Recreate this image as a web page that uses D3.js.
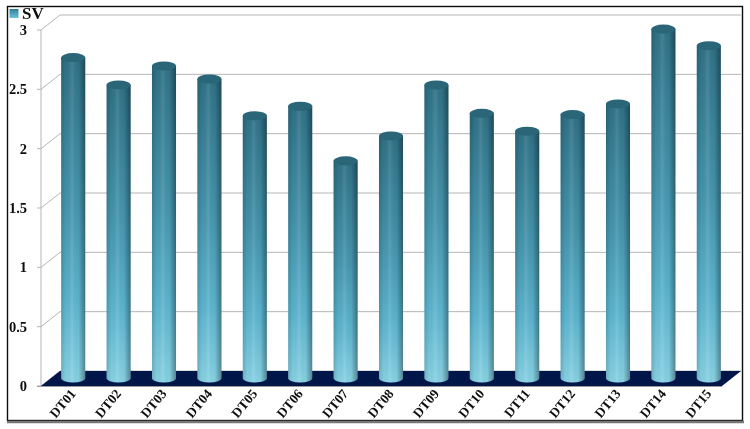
<!DOCTYPE html>
<html><head><meta charset="utf-8">
<script src="https://cdn.jsdelivr.net/npm/d3@7"></script>
<style>html,body{margin:0;padding:0;background:#fff}svg{display:block}text{font-family:"Liberation Serif",serif;font-weight:bold;fill:#111}</style>
</head><body><svg id="c" width="750" height="429"></svg>
<script>
const categories=["DT01","DT02","DT03","DT04","DT05","DT06","DT07","DT08","DT09","DT10","DT11","DT12","DT13","DT14","DT15"];
const seriesValues=[2.70,2.47,2.63,2.52,2.21,2.29,1.83,2.04,2.47,2.23,2.08,2.22,2.31,2.94,2.80];
const yTicks=[0,0.5,1,1.5,2,2.5,3];
const seriesName="SV";

const svg=d3.select("#c");
const defs=svg.append("defs");
const depthX=19,depthY=-15;
const x=d3.scaleBand().domain(categories).range([50.5,731.5]).paddingInner(0.47).paddingOuter(0.235);
const y=d3.scaleLinear().domain([0,3]).range([386,30]);
const midY=depthY/2;

const v=defs.append("linearGradient").attr("id","barV").attr("x1",0).attr("y1",0).attr("x2",0).attr("y2",1);
[[0,"#2f7186"],[0.45,"#4596ae"],[0.75,"#5cb5cf"],[1,"#88d3e5"]].forEach(s=>v.append("stop").attr("offset",s[0]).attr("stop-color",s[1]));
const h=defs.append("linearGradient").attr("id","barH");
[[0,"#000",0.16],[0.2,"#000",0.02],[0.45,"#fff",0.1],[0.72,"#000",0.02],[1,"#000",0.36]].forEach(s=>h.append("stop").attr("offset",s[0]).attr("stop-color",s[1]).attr("stop-opacity",s[2]));
const tile=defs.append("linearGradient").attr("id","leg").attr("x1",0).attr("y1",0).attr("x2",0).attr("y2",1);
[[0,"#2f7f96"],[1,"#6cc3da"]].forEach(s=>tile.append("stop").attr("offset",s[0]).attr("stop-color",s[1]));
const blur=defs.append("filter").attr("id","soft").attr("x","-5%").attr("y","-5%").attr("width","110%").attr("height","110%");
blur.append("feGaussianBlur").attr("stdDeviation",0.5);

const root=svg.append("g").attr("filter","url(#soft)");
// frame
root.append("rect").attr("x",7.5).attr("y",6.5).attr("width",735).attr("height",414).attr("fill","#fff").attr("stroke","#111").attr("stroke-width",1.4);
root.append("line").attr("x1",7).attr("x2",744).attr("y1",422).attr("y2",422).attr("stroke","#777").attr("stroke-width",2.5);

const x0=41,x1=722;
// walls
const grid=root.append("g").attr("fill","none").attr("stroke","#b5b5b5").attr("stroke-width",1);
grid.selectAll("path").data(yTicks).join("path")
 .attr("d",t=>`M${x0-4},${y(t)}L${x0},${y(t)}L${x0+depthX},${y(t)+depthY}L${x1+depthX},${y(t)+depthY}`);
grid.append("line").attr("x1",x0).attr("x2",x0).attr("y1",y(3)).attr("y2",y(0));
// floor
root.append("path").attr("fill","#01134a")
 .attr("d",`M${x0},${y(0)}L${x0+depthX},${y(0)+depthY}L${x1+depthX},${y(0)+depthY}L${x1},${y(0)}Z`);
root.append("line").attr("x1",x0-4).attr("x2",x1).attr("y1",y(0)+0.5).attr("y2",y(0)+0.5).attr("stroke","#999");

// bars
const w=x.bandwidth(),ry=4.5;
const bars=root.append("g").selectAll("g").data(categories).join("g")
 .attr("transform",d=>`translate(${x(d)},${midY-0.5})`);
const body=(d,i)=>{const t=y(seriesValues[i]),b=y(0);
 return `M0,${t}L0,${b}A${w/2},${ry} 0 0 0 ${w},${b}L${w},${t}Z`;};
bars.append("path").attr("d",body).attr("fill","url(#barV)");
bars.append("path").attr("d",body).attr("fill","url(#barH)");
bars.append("ellipse").attr("cx",w/2).attr("cy",(d,i)=>y(seriesValues[i])).attr("rx",w/2).attr("ry",ry).attr("fill","#2a6578");

// y labels
root.append("g").selectAll("text").data(yTicks).join("text")
 .attr("x",27).attr("y",t=>y(t)+5).attr("text-anchor","end").attr("font-size",14.5).text(t=>t);
// x labels
root.append("g").selectAll("text").data(categories).join("text")
 .attr("transform",d=>`translate(${x(d)+w/2+1},${392}) rotate(-50)`)
 .attr("text-anchor","end").attr("dominant-baseline","middle").attr("font-size",13.5).text(d=>d);
// legend
root.append("rect").attr("x",9.5).attr("y",9).attr("width",9).attr("height",9).attr("fill","url(#leg)");
root.append("text").attr("x",22).attr("y",19).attr("font-size",17).text(seriesName);
</script></body></html>
